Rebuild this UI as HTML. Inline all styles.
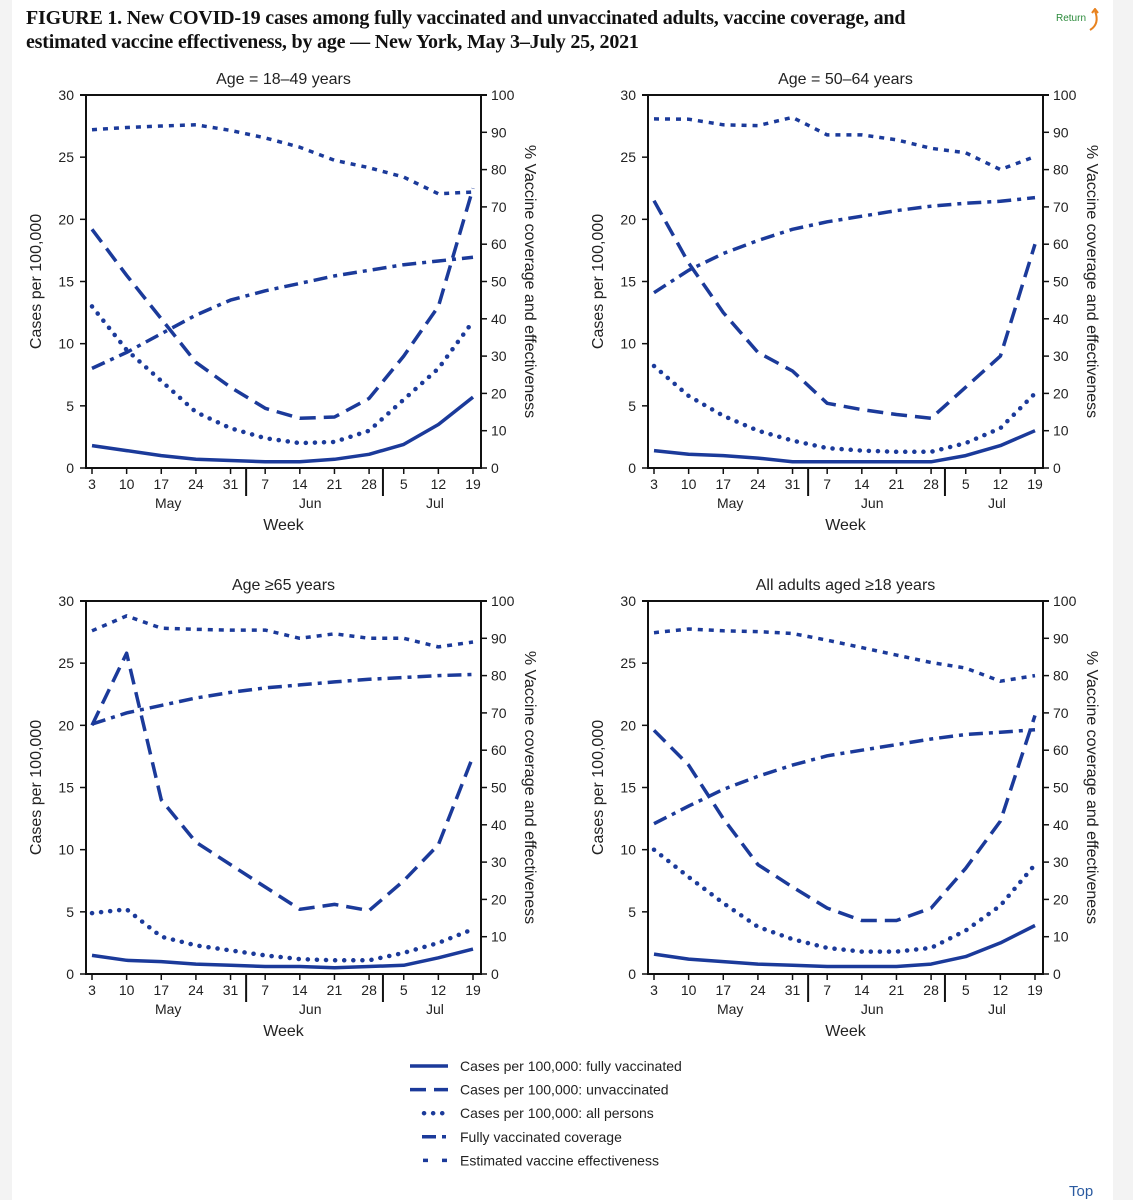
<!DOCTYPE html>
<html><head><meta charset="utf-8">
<style>
html,body{margin:0;padding:0;background:#fff;}
body{width:1133px;height:1200px;position:relative;overflow:hidden;font-family:"Liberation Sans",sans-serif;}
.gl{position:absolute;left:0;top:0;width:12px;height:1200px;background:#f3f3f3}
.gr{position:absolute;right:0;top:0;width:20px;height:1200px;background:#f3f3f3}
.title{position:absolute;left:26px;top:6px;font-family:"Liberation Serif",serif;font-weight:bold;font-size:20px;line-height:24px;color:#111;letter-spacing:-0.2px;white-space:nowrap}
</style></head>
<body>
<div class="gl"></div>
<div class="gr"></div>
<div class="title">FIGURE 1. New COVID-19 cases among fully vaccinated and unvaccinated adults, vaccine coverage, and<br>estimated vaccine effectiveness, by age — New York, May 3–July 25, 2021</div>
<div style="position:absolute;left:1056px;top:13px;font-size:10px;color:#2a8a3a">Return</div>
<svg style="position:absolute;left:1086px;top:8px" width="16" height="26"><path d="M4 22 Q14 16 9 3" stroke="#e8821e" stroke-width="2" fill="none"/><path d="M6 5 L9 1 L12 5" stroke="#e8821e" stroke-width="2" fill="none"/></svg>
<svg id="chart" width="1133" height="1200" style="position:absolute;left:0;top:0"></svg>
<div style="position:absolute;left:1069px;top:1183px;font-size:15px;color:#2a5aa0">Top</div>
<script>
const weeks=["3","10","17","24","31","7","14","21","28","5","12","19"];
const panelTitles=["Age = 18–49 years","Age = 50–64 years","Age ≥65 years","All adults aged ≥18 years"];
const fullyVacc=[[1.8,1.4,1.0,0.7,0.6,0.5,0.5,0.7,1.1,1.9,3.5,5.7],[1.4,1.1,1.0,0.8,0.5,0.5,0.5,0.5,0.5,1.0,1.8,3.0],[1.5,1.1,1.0,0.8,0.7,0.6,0.6,0.5,0.6,0.7,1.3,2.0],[1.6,1.2,1.0,0.8,0.7,0.6,0.6,0.6,0.8,1.4,2.5,3.9]];
const unvacc=[[19.2,15.5,12,8.5,6.5,4.8,4.0,4.1,5.6,9,13,22.5],[21.5,16.5,12.5,9.3,7.8,5.2,4.7,4.3,4.0,6.5,9,18],[20,25.8,14,10.6,8.8,7,5.2,5.6,5.1,7.5,10.4,17.5],[19.6,16.8,12.5,8.8,7,5.3,4.3,4.3,5.3,8.5,12.3,20.8]];
const allPersons=[[13,9.5,7,4.5,3.2,2.4,2.0,2.1,3,5.5,8,11.8],[8.2,5.8,4.2,3.0,2.2,1.6,1.4,1.3,1.3,2.0,3.2,6.0],[4.9,5.2,3.0,2.3,1.9,1.5,1.2,1.1,1.1,1.7,2.5,3.6],[10,7.8,5.7,3.8,2.8,2.1,1.8,1.8,2.1,3.5,5.5,8.8]];
const coverage=[[26.7,31,36,41,45,47.5,49.5,51.5,53,54.5,55.5,56.5],[47,53,57.5,61,64,66,67.5,69,70.2,71,71.5,72.5],[67,70,72,74,75.5,76.7,77.5,78.3,79,79.5,80,80.3],[40.3,45,49.5,53,56,58.5,60,61.5,63,64.2,64.8,65.5]];
const effectiveness=[[90.7,91.3,91.7,92,90.5,88.5,86,82.5,80.5,78,73.5,74],[93.6,93.5,92,91.8,94,89.3,89.3,88,85.7,84.5,80,83.5],[92,96,92.7,92.4,92.2,92.2,90,91.2,90,90,87.7,89],[91.5,92.5,92,91.8,91.3,89.5,87.5,85.5,83.5,82,78.5,80]];
const leftTicks=[0,5,10,15,20,25,30];
const rightTicks=[0,10,20,30,40,50,60,70,80,90,100];
const months=[["May",2.2],["Jun",6.3],["Jul",9.9]];
const legendLabels=["Cases per 100,000: fully vaccinated","Cases per 100,000: unvaccinated","Cases per 100,000: all persons","Fully vaccinated coverage","Estimated vaccine effectiveness"];

const svg=document.getElementById('chart');
const NS='http://www.w3.org/2000/svg';
const C='#1b3a9a';
function mk(tag,attrs,parent){const e=document.createElementNS(NS,tag);for(const k in attrs)e.setAttribute(k,attrs[k]);(parent||svg).appendChild(e);return e;}
const styles=[{d:''},{d:'16,8'},{d:'0.1,9',cap:'round',w:4.5},{d:'14,6,4,6'},{d:'5,6'}];
const origins=[[86,95],[648,95],[86,601],[648,601]];
const W=395,H=373;
origins.forEach((o,p)=>{
  const [x0,y0]=o;
  const g=mk('g',{});
  
  
  const xs=i=>x0+6+i*(W-14)/11;
  const yl=v=>y0+H-v/30*H;
  const yr=v=>y0+H-v/100*H;
  const t=mk('text',{x:x0+W/2,y:y0-11,'text-anchor':'middle','font-size':16,fill:'#222'},g);t.textContent=panelTitles[p];
  
  mk('path',{d:`M${x0} ${y0} V${y0+H} H${x0+W} V${y0}`,stroke:'#111','stroke-width':2,fill:'none'},g);
  mk('line',{x1:x0-6,x2:x0+W+6,y1:y0,y2:y0,stroke:'#111','stroke-width':2},g);
  leftTicks.forEach(v=>{mk('line',{x1:x0-6,x2:x0,y1:yl(v),y2:yl(v),stroke:'#111','stroke-width':1.5},g);
    const e=mk('text',{x:x0-12,y:yl(v)+5,'text-anchor':'end','font-size':14,fill:'#222'},g);e.textContent=v;
    });
  rightTicks.forEach(v=>{mk('line',{x1:x0+W,x2:x0+W+6,y1:yr(v),y2:yr(v),stroke:'#111','stroke-width':1.5},g);
    const e=mk('text',{x:x0+W+10,y:yr(v)+5,'font-size':14,fill:'#222'},g);e.textContent=v;
    });
  weeks.forEach((w,i)=>{mk('line',{x1:xs(i),x2:xs(i),y1:y0+H,y2:y0+H+6,stroke:'#111','stroke-width':1.5},g);
    const e=mk('text',{x:xs(i),y:y0+H+21,'text-anchor':'middle','font-size':14,fill:'#222'},g);e.textContent=w;
    });
  [4.45,8.4].forEach(s=>mk('line',{x1:xs(s),x2:xs(s),y1:y0+H,y2:y0+H+28,stroke:'#111','stroke-width':2},g));
  months.forEach(m=>{const e=mk('text',{x:xs(m[1]),y:y0+H+40,'text-anchor':'middle','font-size':14,fill:'#222'},g);e.textContent=m[0];
    });
  const wk=mk('text',{x:x0+W/2,y:y0+H+62,'text-anchor':'middle','font-size':16,fill:'#222'},g);wk.textContent='Week';
  
  const ly=mk('text',{transform:`translate(${x0-45},${y0+H/2}) rotate(-90)`,'text-anchor':'middle','font-size':16,fill:'#222'},g);ly.textContent='Cases per 100,000';
  
  const ry=mk('text',{transform:`translate(${x0+W+44},${y0+H/2}) rotate(90)`,'text-anchor':'middle','font-size':16,fill:'#222'},g);ry.textContent='% Vaccine coverage and effectiveness';
  
  const series=[[fullyVacc[p],yl,'fully-vaccinated-line'],[unvacc[p],yl,'unvaccinated-line'],[allPersons[p],yl,'all-persons-line'],[coverage[p],yr,'coverage-line'],[effectiveness[p],yr,'effectiveness-line']];
  series.forEach((s,k)=>{
    const d=s[0].map((v,i)=>(i?'L':'M')+xs(i).toFixed(1)+' '+s[1](v).toFixed(1)).join(' ');
    const st=styles[k];
    const a={d:d,stroke:C,'stroke-width':st.w||3.5,fill:'none','stroke-linejoin':'round','stroke-linecap':st.cap||'butt'};
    if(st.d)a['stroke-dasharray']=st.d;
    const e=mk('path',a,g);
    
    
  });
});
const lg=mk('g',{});


legendLabels.forEach((l,k)=>{
  const y=1066+k*23.6;
  const st=styles[k];
  const a={x1:410,x2:448,y1:y,y2:y,stroke:C,'stroke-width':st.w||3.5,'stroke-linecap':st.cap||'butt'};
  if(k==2){a.x1=424;a['stroke-dasharray']='0.1,9';}
  else if(k==3){a.x1=422;a['stroke-dasharray']='14,6,4,6';}
  else if(k==4){a.x1=423;a['stroke-dasharray']='5,14';}
  else if(st.d)a['stroke-dasharray']=st.d;
  mk('line',a,lg);
  const e=mk('text',{x:460,y:y+5,'font-size':14,fill:'#222'},lg);e.textContent=l;
  
  
});
</script>
</body></html>
